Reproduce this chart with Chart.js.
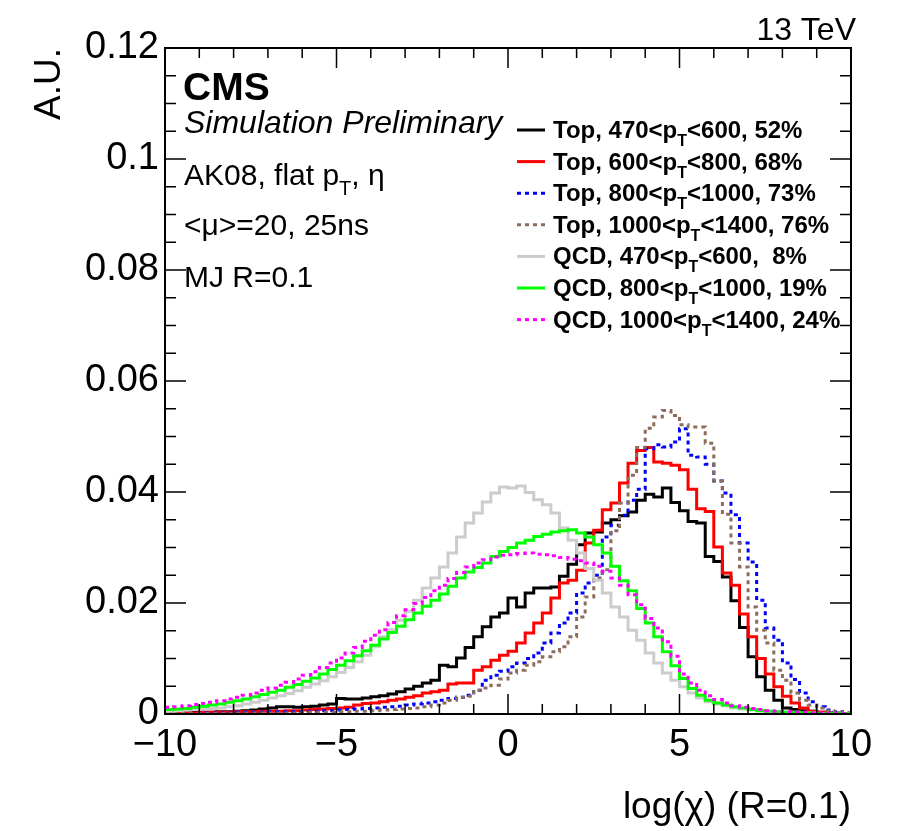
<!DOCTYPE html>
<html>
<head>
<meta charset="utf-8">
<script src="https://cdn.jsdelivr.net/npm/chart.js@4.4.0/dist/chart.umd.min.js"></script>
<style>
  html, body { margin: 0; padding: 0; background: #ffffff; }
</style>
</head>
<body>
<canvas id="grafico" width="899" height="831"></canvas>
<script>
//Bines del histograma: de -10 a 10 con ancho 0.25 (80 bines).
const inicioBins = -10;
const anchoBin = 0.25;
const numBins = 80;

//Contenido de cada bin (A.U.).
const topPt470 = [
  0.0002, 0.0002, 0.0002, 0.0003, 0.0003, 0.0003, 0.0004, 0.0004,
  0.0005, 0.0006, 0.0007, 0.0009, 0.0011, 0.0013, 0.0013, 0.0012,
  0.0013, 0.0014, 0.0016, 0.0018, 0.0028, 0.0027, 0.0027, 0.0029,
  0.0031, 0.0033, 0.0036, 0.0040, 0.0045, 0.0050, 0.0056, 0.0061,
  0.0088, 0.0085, 0.0101, 0.0120, 0.0139, 0.0157, 0.0175, 0.0182,
  0.0209, 0.0193, 0.0218, 0.0227, 0.0227, 0.0229, 0.0248, 0.0270,
  0.0305, 0.0326, 0.0328, 0.0344, 0.0350, 0.0357, 0.0364, 0.0385,
  0.0396, 0.0391, 0.0407, 0.0381, 0.0366, 0.0347, 0.0344, 0.0284,
  0.0275, 0.0247, 0.0204, 0.0156, 0.0103, 0.0067, 0.0043, 0.0025,
  0.0011, 0.0008, 0.0006, 0.0005, 0.0003, 0.0002, 0.0002, 0.0001
];
const topPt600 = [
  0.0002, 0.0002, 0.0002, 0.0002, 0.0003, 0.0003, 0.0003, 0.0003,
  0.0004, 0.0004, 0.0004, 0.0005, 0.0005, 0.0005, 0.0006, 0.0006,
  0.0007, 0.0008, 0.0009, 0.0010, 0.0011, 0.0012, 0.0016, 0.0019,
  0.0020, 0.0022, 0.0025, 0.0027, 0.0030, 0.0033, 0.0038, 0.0040,
  0.0043, 0.0054, 0.0056, 0.0056, 0.0079, 0.0085, 0.0097, 0.0106,
  0.0113, 0.0128, 0.0146, 0.0164, 0.0182, 0.0209, 0.0236, 0.0241,
  0.0259, 0.0308, 0.0331, 0.0368, 0.0380, 0.0416, 0.0452, 0.0475,
  0.0480, 0.0454, 0.0452, 0.0448, 0.0440, 0.0405, 0.0370, 0.0365,
  0.0301, 0.0254, 0.0232, 0.0180, 0.0139, 0.0100, 0.0072, 0.0049,
  0.0032, 0.0020, 0.0011, 0.0005, 0.0003, 0.0002, 0.0001, 0.0001
];
const topPt800 = [
  0.0001, 0.0001, 0.0001, 0.0001, 0.0002, 0.0002, 0.0002, 0.0002,
  0.0003, 0.0003, 0.0003, 0.0003, 0.0004, 0.0004, 0.0004, 0.0004,
  0.0005, 0.0005, 0.0006, 0.0006, 0.0007, 0.0008, 0.0009, 0.0010,
  0.0011, 0.0012, 0.0013, 0.0014, 0.0016, 0.0018, 0.0020, 0.0022,
  0.0025, 0.0028, 0.0030, 0.0034, 0.0043, 0.0061, 0.0070, 0.0077,
  0.0085, 0.0092, 0.0100, 0.0110, 0.0128, 0.0146, 0.0164, 0.0182,
  0.0218, 0.0236, 0.0250, 0.0319, 0.0340, 0.0358, 0.0385, 0.0405,
  0.0478, 0.0485, 0.0481, 0.0490, 0.0514, 0.0466, 0.0463, 0.0450,
  0.0420, 0.0398, 0.0359, 0.0308, 0.0274, 0.0205, 0.0155, 0.0133,
  0.0092, 0.0062, 0.0038, 0.0022, 0.0013, 0.0007, 0.0004, 0.0002
];
const topPt1000 = [
  0.0001, 0.0001, 0.0001, 0.0001, 0.0001, 0.0001, 0.0001, 0.0001,
  0.0002, 0.0002, 0.0002, 0.0002, 0.0002, 0.0002, 0.0002, 0.0002,
  0.0003, 0.0003, 0.0003, 0.0003, 0.0004, 0.0004, 0.0005, 0.0005,
  0.0006, 0.0007, 0.0008, 0.0009, 0.0010, 0.0011, 0.0013, 0.0016,
  0.0020, 0.0025, 0.0030, 0.0032, 0.0043, 0.0047, 0.0052, 0.0063,
  0.0074, 0.0079, 0.0088, 0.0094, 0.0103, 0.0112, 0.0121, 0.0139,
  0.0175, 0.0211, 0.0245, 0.0260, 0.0330, 0.0380, 0.0430, 0.0480,
  0.0515, 0.0535, 0.0547, 0.0538, 0.0521, 0.0517, 0.0517, 0.0488,
  0.0420, 0.0360, 0.0308, 0.0265, 0.0193, 0.0151, 0.0128, 0.0079,
  0.0061, 0.0038, 0.0025, 0.0016, 0.0011, 0.0006, 0.0003, 0.0002
];
const qcdPt470 = [
  0.0005, 0.0006, 0.0007, 0.0008, 0.0009, 0.0010, 0.0011, 0.0013,
  0.0015, 0.0018, 0.0021, 0.0025, 0.0029, 0.0033, 0.0037, 0.0042,
  0.0048, 0.0054, 0.0060, 0.0067, 0.0075, 0.0084, 0.0094, 0.0106,
  0.0122, 0.0139, 0.0152, 0.0169, 0.0185, 0.0205, 0.0227, 0.0245,
  0.0265, 0.0290, 0.0319, 0.0344, 0.0362, 0.0382, 0.0398, 0.0409,
  0.0407, 0.0411, 0.0399, 0.0386, 0.0377, 0.0362, 0.0335, 0.0313,
  0.0290, 0.0262, 0.0241, 0.0218, 0.0193, 0.0175, 0.0151, 0.0133,
  0.0110, 0.0092, 0.0074, 0.0061, 0.0049, 0.0038, 0.0029, 0.0022,
  0.0018, 0.0015, 0.0011, 0.0009, 0.0007, 0.0006, 0.0005, 0.0004,
  0.0003, 0.0003, 0.0002, 0.0002, 0.0001, 0.0001, 0.0001, 0.0001
];
const qcdPt800 = [
  0.0008, 0.0009, 0.0010, 0.0012, 0.0014, 0.0016, 0.0018, 0.0021,
  0.0024, 0.0027, 0.0031, 0.0035, 0.0039, 0.0043, 0.0048, 0.0053,
  0.0059, 0.0065, 0.0072, 0.0080, 0.0088, 0.0096, 0.0105, 0.0114,
  0.0124, 0.0135, 0.0147, 0.0158, 0.0170, 0.0182, 0.0194, 0.0205,
  0.0216, 0.0230, 0.0245, 0.0256, 0.0264, 0.0272, 0.0284, 0.0293,
  0.0300, 0.0308, 0.0313, 0.0320, 0.0324, 0.0328, 0.0330, 0.0332,
  0.0326, 0.0319, 0.0305, 0.0290, 0.0266, 0.0240, 0.0222, 0.0190,
  0.0164, 0.0139, 0.0112, 0.0087, 0.0064, 0.0046, 0.0034, 0.0025,
  0.0020, 0.0016, 0.0013, 0.0011, 0.0008, 0.0006, 0.0005, 0.0004,
  0.0003, 0.0003, 0.0002, 0.0002, 0.0001, 0.0001, 0.0001, 0.0001
];
const qcdPt1000 = [
  0.0012, 0.0013, 0.0015, 0.0017, 0.0019, 0.0021, 0.0024, 0.0027,
  0.0030, 0.0034, 0.0038, 0.0043, 0.0047, 0.0052, 0.0057, 0.0063,
  0.0070, 0.0076, 0.0084, 0.0092, 0.0101, 0.0110, 0.0120, 0.0131,
  0.0142, 0.0152, 0.0165, 0.0177, 0.0188, 0.0199, 0.0210, 0.0222,
  0.0232, 0.0244, 0.0255, 0.0265, 0.0272, 0.0278, 0.0283, 0.0286,
  0.0287, 0.0289, 0.0290, 0.0288, 0.0287, 0.0285, 0.0282, 0.0279,
  0.0276, 0.0272, 0.0266, 0.0257, 0.0245, 0.0232, 0.0215, 0.0197,
  0.0172, 0.0155, 0.0130, 0.0104, 0.0072, 0.0056, 0.0043, 0.0033,
  0.0026, 0.0020, 0.0015, 0.0012, 0.0010, 0.0008, 0.0006, 0.0005,
  0.0004, 0.0003, 0.0003, 0.0002, 0.0002, 0.0001, 0.0001, 0.0001
];

//Ejes: marcas y etiquetas.
const xTicks = [-10, -5, 0, 5, 10];
const xEtiquetas = ['\u221210', '\u22125', '0', '5', '10'];
const yTicks = [0, 0.02, 0.04, 0.06, 0.08, 0.1, 0.12];
const yEtiquetas = ['0', '0.02', '0.04', '0.06', '0.08', '0.1', '0.12'];

//Leyenda (texto antes y después del subíndice T).
const leyendaAntes = ['Top, 470<p', 'Top, 600<p', 'Top, 800<p', 'Top, 1000<p',
                      'QCD, 470<p', 'QCD, 800<p', 'QCD, 1000<p'];
const leyendaDespues = ['<600, 52%', '<800, 68%', '<1000, 73%', '<1400, 76%',
                        '<600,  8%', '<1000, 19%', '<1400, 24%'];

const series = [topPt470, topPt600, topPt800, topPt1000, qcdPt470, qcdPt800, qcdPt1000];
const colores = ['#000000', '#ff0000', '#0000ff', '#8c6d5c', '#cccccc', '#00ff00', '#ff00ff'];
const guiones = [[], [], [4, 4], [4, 4], [], [], [4, 4]];

const fuente = '"Liberation Sans", Arial, sans-serif';

//Puntos en el borde izquierdo de cada bin + cierre en x=10.
function puntosHistograma(valores) {
    const puntos = [];
    for (let i = 0; i <= numBins; i++) {
        puntos.push({ x: inicioBins + i * anchoBin, y: valores[Math.min(i, numBins - 1)] });
    }
    return puntos;
}

//Texto con subíndice: partes [texto, esSub].
function textoConSub(ctx, partes, x, y, tam, peso) {
    let xi = x;
    partes.forEach(([t, sub]) => {
        const s = sub ? Math.round(tam * 0.68) : tam;
        ctx.font = `${peso} ${s}px ${fuente}`;
        ctx.fillText(t, xi, sub ? y + tam * 0.33 : y);
        xi += ctx.measureText(t).width;
    });
}

//Marco, marcas hacia dentro, textos y leyenda al estilo ROOT.
const marcoRoot = {
    id: 'marcoRoot',
    afterDraw(chart) {
        const ctx = chart.ctx;
        const area = chart.chartArea;
        const sx = chart.scales.x;
        const sy = chart.scales.y;
        ctx.save();
        ctx.strokeStyle = '#000';
        ctx.lineWidth = 2;
        ctx.strokeRect(area.left, area.top, area.right - area.left, area.bottom - area.top);

        ctx.lineWidth = 1.5;
        ctx.beginPath();
        for (let v = -10; v <= 10; v++) {
            const px = sx.getPixelForValue(v);
            const largo = (v % 5 === 0) ? 20 : 10;
            ctx.moveTo(px, area.bottom); ctx.lineTo(px, area.bottom - largo);
            ctx.moveTo(px, area.top); ctx.lineTo(px, area.top + largo);
        }
        for (let k = 0; k <= 24; k++) {
            const py = sy.getPixelForValue(k * 0.005);
            const largo = (k % 4 === 0) ? 21 : 11;
            ctx.moveTo(area.left, py); ctx.lineTo(area.left + largo, py);
            ctx.moveTo(area.right, py); ctx.lineTo(area.right - largo, py);
        }
        ctx.stroke();

        //Textos de la figura.
        ctx.fillStyle = '#000';
        ctx.textBaseline = 'alphabetic';
        ctx.textAlign = 'right';
        ctx.font = `32px ${fuente}`;
        ctx.fillText('13 TeV', 856, 40);
        ctx.textAlign = 'left';
        ctx.font = `bold 39px ${fuente}`;
        ctx.fillText('CMS', 183, 100);
        ctx.font = `italic 32px ${fuente}`;
        ctx.fillText('Simulation Preliminary', 184, 133);
        textoConSub(ctx, [['AK08, flat p', false], ['T', true], [', \u03b7', false]], 184, 185, 30, 'normal');
        ctx.font = `30px ${fuente}`;
        ctx.fillText('<\u03bc>=20, 25ns', 184, 235);
        ctx.fillText('MJ R=0.1', 184, 287);

        //Leyenda.
        for (let i = 0; i < series.length; i++) {
            const y = 130 + i * 31.6;
            ctx.strokeStyle = colores[i];
            ctx.lineWidth = 3;
            ctx.setLineDash(guiones[i]);
            ctx.beginPath();
            ctx.moveTo(517, y); ctx.lineTo(545, y);
            ctx.stroke();
            ctx.setLineDash([]);
            textoConSub(ctx, [[leyendaAntes[i], false], ['T', true], [leyendaDespues[i], false]],
                        553, y + 8, 24, 'bold');
        }
        ctx.restore();
    }
};

const ctx = document.querySelector('#grafico').getContext('2d');
const myChart = new Chart(ctx, {
    type: 'line',
    data: {
        datasets: series.map((valores, i) => ({
            label: leyendaAntes[i] + 'T' + leyendaDespues[i],
            data: puntosHistograma(valores),
            borderColor: colores[i],
            borderDash: guiones[i],
            borderWidth: 3,
            stepped: true,
            fill: false,
            pointRadius: 0,
            order: series.length - 1 - i
        }))
    },
    options: {
        responsive: false,
        animation: false,
        layout: { padding: { top: 48, right: 48, left: 0, bottom: 0 } },
        plugins: {
            legend: { display: false },
            tooltip: { enabled: false }
        },
        scales: {
            x: {
                type: 'linear',
                min: -10,
                max: 10,
                afterFit: (s) => { s.height = 117; },
                afterBuildTicks: (s) => { s.ticks = xTicks.map(v => ({ value: v })); },
                ticks: {
                    callback: (v) => xEtiquetas[xTicks.indexOf(v)],
                    font: { family: fuente, size: 38 },
                    color: '#000',
                    padding: 9,
                    maxRotation: 0,
                    autoSkip: false
                },
                grid: { display: false, drawTicks: false },
                border: { display: false },
                title: {
                    display: true,
                    text: 'log(\u03c7) (R=0.1)',
                    align: 'end',
                    color: '#000',
                    font: { family: fuente, size: 37 },
                    padding: { top: 0, bottom: 1 }
                }
            },
            y: {
                type: 'linear',
                min: 0,
                max: 0.12,
                afterFit: (s) => { s.width = 165; },
                afterBuildTicks: (s) => { s.ticks = yTicks.map(v => ({ value: v })); },
                ticks: {
                    callback: (v) => yEtiquetas[yTicks.indexOf(v)],
                    font: { family: fuente, size: 38 },
                    color: '#000',
                    padding: 6,
                    autoSkip: false
                },
                grid: { display: false, drawTicks: false },
                border: { display: false },
                title: {
                    display: true,
                    text: 'A.U.',
                    align: 'end',
                    color: '#000',
                    font: { family: fuente, size: 37 },
                    padding: { top: 28, bottom: 0 }
                }
            }
        }
    },
    plugins: [marcoRoot]
});
</script>
</body>
</html>
